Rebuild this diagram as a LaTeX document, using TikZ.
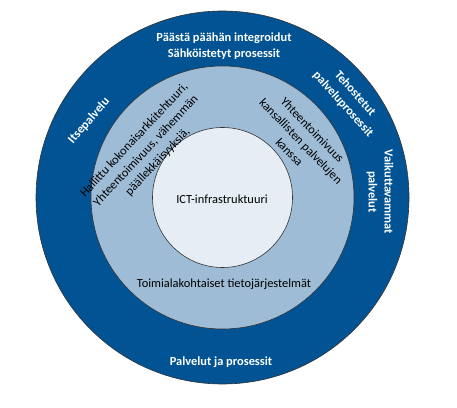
\documentclass[tikz,border=0pt]{standalone}
\usepackage{fontspec}
\setmainfont{Carlito}
\definecolor{ringdark}{RGB}{1,83,148}
\definecolor{ringmid}{RGB}{158,188,214}
\definecolor{ringcore}{RGB}{230,237,245}
\begin{document}
\begin{tikzpicture}[x=1pt,y=1pt,
  ring/.style={circle,draw=black!80,line width=0.6pt,inner sep=0pt},
  wlabel/.style={text=white,font=\fontsize{12.4}{16}\selectfont\bfseries,align=center,inner sep=0pt},
  blabel/.style={text=black,font=\fontsize{12.4}{16}\selectfont,align=center,inner sep=0pt}]
\useasboundingbox (0,0) rectangle (457,407);
\coordinate (c) at (222.5,209.5);
\node[ring,fill=ringdark,minimum size=373pt] (outer) at (c) {};
\node[ring,fill=ringmid,minimum size=263pt] (middle) at (c) {};
\node[ring,fill=ringcore,minimum size=140pt] (core) at (c) {};
% outer ring labels
\node[wlabel] (top) at (224,361) {Päästä päähän integroidut\\Sähköistetyt prosessit};
\node[wlabel,rotate=-48] (tehost) at (349,308) {Tehostetut\\palveluprosessit};
\node[wlabel,rotate=-90] (vaik) at (380,215) {Vaikuttavammat\\palvelut};
\node[wlabel,rotate=49] (itse) at (89,286) {Itsepalvelu};
\node[wlabel] (palv) at (221,45) {Palvelut ja prosessit};
% middle ring labels
\node[blabel,rotate=47] (hall) at (146,256) {Hallittu kokonaisarkkitehtuuri,\\Yhteentoimivuus, vähemmän\\päällekkäisyyksiä,};
\node[blabel,rotate=-46] (yht) at (301,266) {Yhteentoimivuus\\kansallisten palvelujen\\kanssa};
\node[blabel] (toim) at (224,123) {Toimialakohtaiset tietojärjestelmät};
% core label
\node[blabel] (ict) at (222,208) {ICT-infrastruktuuri};
\end{tikzpicture}
\end{document}
